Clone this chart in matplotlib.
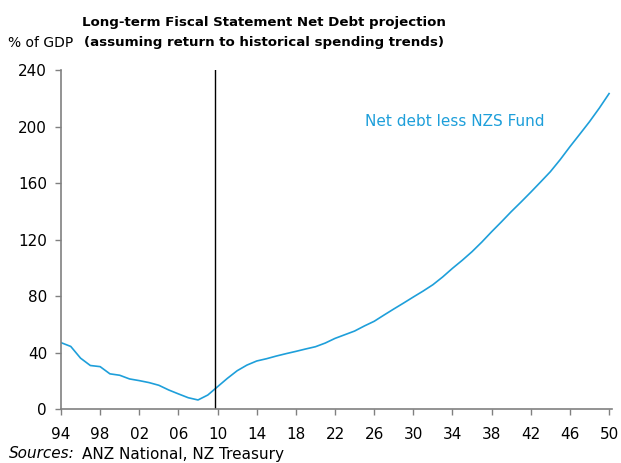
import matplotlib
matplotlib.use("Agg")
import matplotlib.pyplot as plt
from matplotlib.ticker import FixedLocator

years = list(range(1994, 2051))
net_debt = [47.0, 44.3, 36.0, 30.8, 30.0, 24.9, 23.9, 21.3, 20.1, 18.7,
            16.8, 13.5, 10.7, 8.0, 6.4, 9.9, 15.8, 21.7, 27.1, 31.1,
            34.0, 35.6, 37.5, 39.2, 40.8, 42.5, 44.1, 46.7, 50.0, 52.6,
            55.2, 58.8, 62.1, 66.5, 70.8, 75.0, 79.3, 83.5, 88.0, 93.5,
            99.6, 105.3, 111.4, 118.2, 125.5, 132.5, 139.7, 146.5, 153.5, 160.7,
            168.0, 176.5, 185.7, 194.5, 203.4, 213.0, 223.3]

x_ticks = list(range(1994, 2051, 4))
x_labels = [f"{y % 100:02d}" for y in x_ticks]
y_ticks = [0, 40, 80, 120, 160, 200, 240]

title = "Long-term Fiscal Statement Net Debt projection\n(assuming return to historical spending trends)"
series_label = "Net debt less NZS Fund"
forecast_start = 2009.75

line_color = "#1E9FDA"
axis_color = "#808080"

plt.rcParams['font.family'] = ['DejaVu Sans']

fig = plt.figure(figsize=(6.21, 4.63), dpi=100)
ax = fig.add_axes([0.0982, 0.1166, 0.887, 0.7322])

ax.plot(years, net_debt, color=line_color, lw=1.2)
ax.axvline(forecast_start, color="black", lw=1.0, ymax=1.0)

ax.set_xlim(1994, 2050.28)
ax.set_ylim(0, 240)
ax.xaxis.set_major_locator(FixedLocator(x_ticks))
ax.set_xticklabels(x_labels)
ax.yaxis.set_major_locator(FixedLocator(y_ticks))

for s in ["top", "right"]:
    ax.spines[s].set_visible(False)
for s in ["left", "bottom"]:
    ax.spines[s].set_color(axis_color)
    ax.spines[s].set_linewidth(1.2)

ax.tick_params(axis="both", direction="out", length=4, width=1.0,
               color=axis_color, labelsize=11, labelcolor="black")
ax.tick_params(axis="x", pad=9)
ax.tick_params(axis="y", pad=6)

ax.text(2034.2, 203.4, series_label, color=line_color, fontsize=11,
        ha="center", va="center")

fig.text(264 / 621, 1 - 32.5 / 463, title, ha="center", va="center",
         fontsize=9.6, fontweight="bold", linespacing=1.7)
fig.text(8 / 621, 1 - 43 / 463, "% of GDP", ha="left", va="center", fontsize=10)

fig.text(9 / 621, 1 - 454 / 463, "Sources:", ha="left", va="center",
         fontsize=11, style="italic")
fig.text(82 / 621, 1 - 454 / 463, "ANZ National, NZ Treasury", ha="left",
         va="center", fontsize=11)

fig.savefig("out.png", dpi=100)
